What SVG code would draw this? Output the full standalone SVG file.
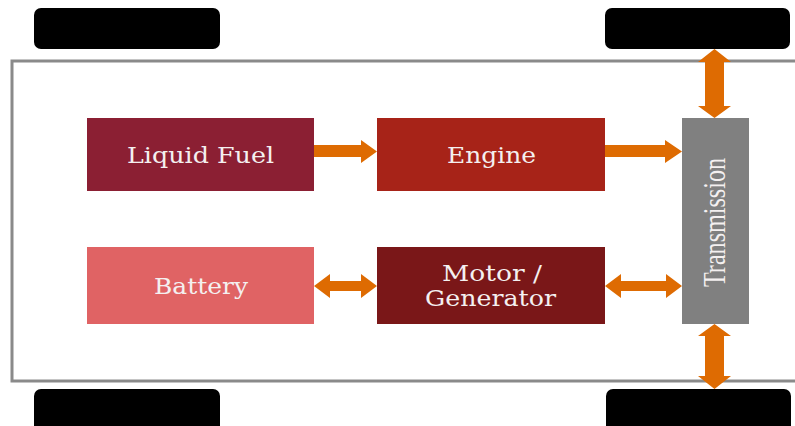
<svg xmlns="http://www.w3.org/2000/svg" width="795" height="426" viewBox="0 0 795 426">
  <style>
    .wheel { fill: #000000; }
    .chassis { fill: #ffffff; stroke: #8a8a8a; stroke-width: 3; }
    .label { font-family: "DejaVu Serif", "Liberation Serif", serif; font-size: 22px; fill: #f4f0f0; text-anchor: middle; }
    .vlabel { font-family: "Liberation Serif", "DejaVu Serif", serif; font-size: 32px; }
    .arrow { fill: #de6b02; }
  </style>
  <rect width="795" height="426" fill="#ffffff"/>

  <!-- chassis outline -->
  <rect class="chassis" x="12" y="61" width="800" height="320"/>

  <!-- wheels -->
  <g id="wheel-front-left"><rect class="wheel" x="34" y="8" width="186" height="41" rx="7"/></g>
  <g id="wheel-front-right"><rect class="wheel" x="605" y="8" width="185" height="41" rx="7"/></g>
  <g id="wheel-rear-left"><rect class="wheel" x="34" y="389" width="186" height="50" rx="7"/></g>
  <g id="wheel-rear-right"><rect class="wheel" x="606" y="389" width="185" height="50" rx="7"/></g>

  <!-- connectors -->
  <g id="connectors">
    <!-- Liquid Fuel to Engine -->
    <polygon class="arrow" points="314,145 361,145 361,140 377,151.5 361,163 361,157 314,157"/>
    <!-- Engine to Transmission -->
    <polygon class="arrow" points="605,145 665,145 665,140 682,151.5 665,163 665,157 605,157"/>
    <!-- Battery to Motor / Generator -->
    <polygon class="arrow" points="314,286 330,274 330,281 361,281 361,274 377,286 361,298 361,291 330,291 330,298"/>
    <!-- Motor / Generator to Transmission -->
    <polygon class="arrow" points="605,286 621,274 621,281 666,281 666,274 682,286 666,298 666,291 621,291 621,298"/>
    <!-- Transmission to front axle -->
    <polygon class="arrow" points="714.5,49 731,62 724,62 724,106 731,106 714.5,118 698,106 705,106 705,62 698,62"/>
    <!-- Transmission to rear axle -->
    <polygon class="arrow" points="714.5,324 731,336 724,336 724,376 731,376 714.5,389 698,376 705,376 705,336 698,336"/>
  </g>

  <!-- components -->
  <g id="liquid-fuel">
    <rect x="87" y="118" width="227" height="73" fill="#8b1f33"/>
    <text class="label" x="200.5" y="163" textLength="147" lengthAdjust="spacingAndGlyphs">Liquid Fuel</text>
  </g>
  <g id="engine">
    <rect x="377" y="118" width="228" height="73" fill="#a72318"/>
    <text class="label" x="491.5" y="163" textLength="89" lengthAdjust="spacingAndGlyphs">Engine</text>
  </g>
  <g id="battery">
    <rect x="87" y="247" width="227" height="77" fill="#e06364"/>
    <text class="label" x="201" y="294" textLength="94" lengthAdjust="spacingAndGlyphs">Battery</text>
  </g>
  <g id="motor-generator">
    <rect x="377" y="247" width="228" height="77" fill="#7a1718"/>
    <text class="label" x="492" y="281" textLength="100" lengthAdjust="spacingAndGlyphs">Motor /</text>
    <text class="label" x="490.5" y="306" textLength="131" lengthAdjust="spacingAndGlyphs">Generator</text>
  </g>
  <g id="transmission">
    <rect x="682" y="118" width="67" height="206" fill="#808080"/>
    <text class="label vlabel" transform="translate(725,222.5) rotate(-90)" x="0" y="0" textLength="129" lengthAdjust="spacingAndGlyphs">Transmission</text>
  </g>
</svg>
